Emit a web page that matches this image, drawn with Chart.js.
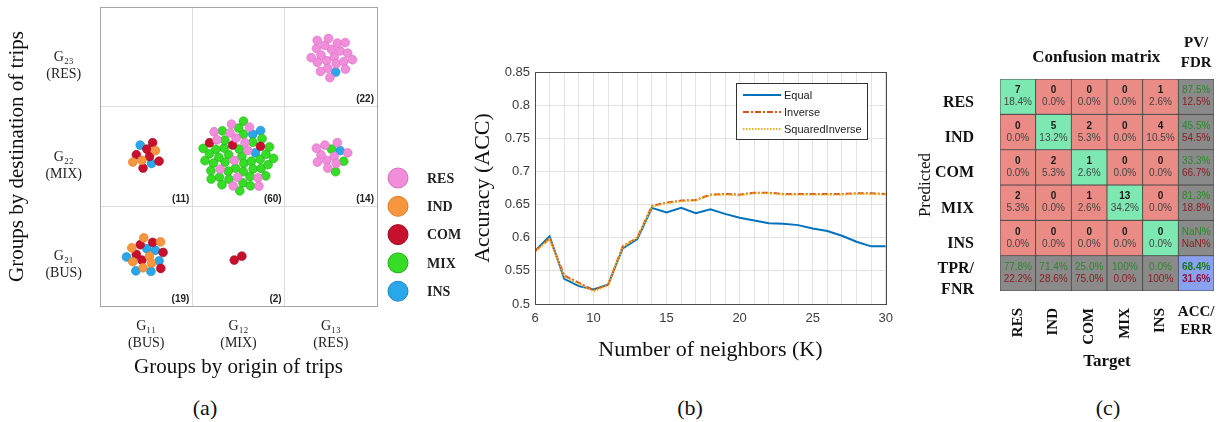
<!DOCTYPE html>
<html>
<head>
<meta charset="utf-8">
<script src="https://cdn.jsdelivr.net/npm/chart.js@4.4.1/dist/chart.umd.min.js"></script>
<style>
    body { margin: 0; background: #fff; width: 1224px; height: 422px; position: relative; overflow: hidden; }
    canvas { position: absolute; top: 0; }
    .cap { position: absolute; top: 395px; font: 22px "Liberation Serif", serif; color: #111; transform: translateX(-50%); }
</style>
</head>
<body>
<canvas id="groups-chart" width="470" height="390" style="left:0"></canvas>
<canvas id="accuracy-chart" width="430" height="390" style="left:470px"></canvas>
<canvas id="confusion-chart" width="319" height="390" style="left:905px"></canvas>
<div class="cap" style="left:205px">(a)</div>
<div class="cap" style="left:690px">(b)</div>
<div class="cap" style="left:1108px">(c)</div>

<script>
// (a) grupos por origem / destino
const originGroups = ["G₁₁", "G₁₂", "G₁₃"];
const destGroups = ["G₂₁", "G₂₂", "G₂₃"];
const groupTypes = ["(BUS)", "(MIX)", "(RES)"];
const landUses = ["RES", "IND", "COM", "MIX", "INS"];
const landColors = ["#f28ddc", "#f7963f", "#c8102e", "#36dc26", "#2aa7ea"];
const landBorders = ["#d56fc0", "#d97a25", "#9c0c22", "#22b018", "#1a88c8"];

// cada grupo: coluna de origem, linha de destino, contagem por uso do solo
const clusterOrigin = [1, 2, 1, 2, 3, 3];
const clusterDest = [1, 1, 2, 2, 2, 3];
const clusterCounts = [
    [0, 7, 6, 0, 6],
    [0, 0, 2, 0, 0],
    [0, 3, 6, 0, 2],
    [14, 0, 3, 40, 3],
    [10, 0, 0, 3, 1],
    [21, 0, 0, 0, 1]
];

// (b) acurácia x vizinhos
const neighbors = [6, 7, 8, 9, 10, 11, 12, 13, 14, 15, 16, 17, 18, 19, 20, 21, 22, 23, 24, 25, 26, 27, 28, 29, 30];
const accEqual = [0.580, 0.602, 0.538, 0.527, 0.522, 0.529, 0.584, 0.598, 0.645, 0.638, 0.645, 0.637, 0.643, 0.636, 0.630, 0.626, 0.622, 0.621, 0.619, 0.614, 0.610, 0.603, 0.594, 0.587, 0.587];
const accInverse = [0.580, 0.599, 0.543, 0.532, 0.521, 0.529, 0.587, 0.600, 0.648, 0.653, 0.656, 0.657, 0.665, 0.666, 0.665, 0.668, 0.668, 0.666, 0.666, 0.666, 0.666, 0.666, 0.667, 0.667, 0.666];
const accSquaredInverse = [0.579, 0.598, 0.541, 0.530, 0.519, 0.528, 0.586, 0.600, 0.647, 0.652, 0.655, 0.656, 0.664, 0.665, 0.664, 0.667, 0.667, 0.665, 0.665, 0.665, 0.665, 0.665, 0.666, 0.666, 0.665];

// (c) matriz de confusão (linhas = previsto, colunas = alvo)
const classes = ["RES", "IND", "COM", "MIX", "INS"];
const confusion = [
    [7, 0, 0, 0, 1],
    [0, 5, 2, 0, 4],
    [0, 2, 1, 0, 0],
    [2, 0, 1, 13, 0],
    [0, 0, 0, 0, 0]
];

Chart.defaults.font.family = "'Liberation Sans', Arial, sans-serif";
Chart.defaults.animation = false;

const serif = "'Liberation Serif', 'Times New Roman', serif";

const plotBox = {
    id: "plotBox",
    afterDraw(chart, args, opts) {
        const { ctx, chartArea: a } = chart;
        ctx.save();
        ctx.strokeStyle = opts.color || "#555";
        ctx.lineWidth = 1;
        ctx.strokeRect(Math.round(a.left) + 0.5, Math.round(a.top) + 0.5, Math.round(a.width), Math.round(a.height));
        ctx.restore();
    }
};

// ---------- (a) ----------
const spiralStep = 4.7;               // px
const cellPx = { x: 92.2, y: 99.6 };  // tamanho de uma célula em px

function packCluster(i) {
    const counts = clusterCounts[i];
    const n = counts.reduce((s, v) => s + v, 0);
    const given = counts.map(() => 0);
    const points = landUses.map(() => []);
    for (let k = 0; k < n; k++) {
        let best = 0, bestLag = -Infinity;
        counts.forEach((c, j) => {
            const lag = c * (k + 1) / n - given[j];
            if (c > given[j] && lag > bestLag) { best = j; bestLag = lag; }
        });
        given[best]++;
        const r = spiralStep * Math.sqrt(k + 0.5);
        const ang = k * 2.39996;
        points[best].push({
            x: clusterOrigin[i] + r * Math.cos(ang) / cellPx.x,
            y: clusterDest[i] - r * Math.sin(ang) / cellPx.y
        });
    }
    return points;
}
const packed = clusterCounts.map((_, i) => packCluster(i));

const dotLegend = {
    id: "dotLegend",
    afterDraw(chart) {
        const { ctx, chartArea: a } = chart;
        ctx.save();
        chart.data.datasets.forEach((ds, i) => {
            const x = a.right + 21, y = a.top + 171 + i * 28.3;
            ctx.beginPath();
            ctx.arc(x, y, 10, 0, Math.PI * 2);
            ctx.fillStyle = ds.backgroundColor;
            ctx.fill();
            ctx.lineWidth = 1;
            ctx.strokeStyle = ds.borderColor;
            ctx.stroke();
            ctx.fillStyle = "#222";
            ctx.font = "bold 14px " + serif;
            ctx.textBaseline = "middle";
            ctx.fillText(ds.label, a.right + 50, y + 1);
        });
        ctx.restore();
    }
};

const countLabels = {
    id: "countLabels",
    afterDatasetsDraw(chart) {
        const { ctx } = chart;
        const xs = chart.scales.x, ys = chart.scales.y;
        ctx.save();
        ctx.font = "bold 10px 'Liberation Sans'";
        ctx.fillStyle = "#222";
        ctx.textAlign = "right";
        ctx.textBaseline = "middle";
        clusterCounts.forEach((c, i) => {
            const total = c.reduce((s, v) => s + v, 0);
            ctx.fillText("(" + total + ")", xs.getPixelForValue(clusterOrigin[i] + 0.5) - 3, ys.getPixelForValue(clusterDest[i] - 0.5) - 7);
        });
        ctx.restore();
    }
};

const halfTicks = scale => { scale.ticks = [0.5, 1, 1.5, 2, 2.5, 3, 3.5].map(v => ({ value: v })); };
const innerGrid = ctx => (ctx.tick && (ctx.tick.value === 1.5 || ctx.tick.value === 2.5)) ? "#dcdcdc" : "rgba(0,0,0,0)";

new Chart(document.getElementById("groups-chart"), {
    type: "scatter",
    data: {
        datasets: landUses.map((name, j) => ({
            label: name,
            data: packed.flatMap(p => p[j]),
            backgroundColor: landColors[j],
            borderColor: landBorders[j],
            borderWidth: 0.6,
            pointRadius: 4.4
        }))
    },
    options: {
        responsive: false,
        layout: { padding: { top: 7, right: 93, bottom: 0, left: 0 } },
        scales: {
            x: {
                type: "linear", min: 0.5, max: 3.5,
                afterBuildTicks: halfTicks,
                afterFit: s => { s.height = 84; s.paddingLeft = 0; s.paddingRight = 0; },
                grid: { drawTicks: false, color: innerGrid },
                border: { display: false },
                ticks: {
                    padding: 12, color: "#222", autoSkip: false, maxRotation: 0,
                    font: { family: serif, size: 14 },
                    callback: v => Number.isInteger(v) ? [originGroups[v - 1], groupTypes[v - 1]] : ""
                },
                title: { display: true, text: "Groups by origin of trips", color: "#111", font: { family: serif, size: 21 }, padding: { top: 0, bottom: 10 } }
            },
            y: {
                type: "linear", min: 0.5, max: 3.5,
                afterBuildTicks: halfTicks,
                afterFit: s => { s.width = 100; s.paddingTop = 0; s.paddingBottom = 0; },
                grid: { drawTicks: false, color: innerGrid },
                border: { display: false },
                ticks: {
                    padding: 18, crossAlign: "center", labelOffset: 9, color: "#222", autoSkip: false,
                    font: { family: serif, size: 14 },
                    callback: v => Number.isInteger(v) ? [destGroups[v - 1], groupTypes[v - 1]] : ""
                },
                title: { display: true, text: "Groups by destination of trips", color: "#111", font: { family: serif, size: 21 }, padding: { top: 5, bottom: 0 } }
            }
        },
        plugins: {
            legend: { display: false },
            tooltip: { enabled: false },
            plotBox: { color: "#a5a5a5" }
        }
    },
    plugins: [plotBox, countLabels, dotLegend]
});

// ---------- (b) ----------
const boxLegend = {
    id: "boxLegend",
    afterDraw(chart) {
        const { ctx, chartArea: a } = chart;
        const w = 131, h = 56;
        const x0 = Math.round(a.right - 19 - w), y0 = Math.round(a.top + 11);
        ctx.save();
        ctx.fillStyle = "#fff";
        ctx.fillRect(x0, y0, w, h);
        ctx.strokeStyle = "#333";
        ctx.lineWidth = 1;
        ctx.strokeRect(x0 + 0.5, y0 + 0.5, w, h);
        chart.data.datasets.forEach((ds, i) => {
            const y = y0 + 12 + i * 17;
            ctx.strokeStyle = ds.borderColor;
            ctx.lineWidth = 2;
            ctx.setLineDash(ds.borderDash || []);
            ctx.beginPath();
            ctx.moveTo(x0 + 7, y);
            ctx.lineTo(x0 + 45, y);
            ctx.stroke();
            ctx.setLineDash([]);
            ctx.fillStyle = "#222";
            ctx.font = "11px 'Liberation Sans'";
            ctx.textBaseline = "middle";
            ctx.fillText(ds.label, x0 + 48, y + 1);
        });
        ctx.restore();
    }
};

const toPoints = values => neighbors.map((k, i) => ({ x: k, y: values[i] }));

new Chart(document.getElementById("accuracy-chart"), {
    type: "line",
    data: {
        datasets: [
            { label: "Equal", data: toPoints(accEqual), borderColor: "#0072BD", borderWidth: 2, pointRadius: 0, order: 3 },
            { label: "Inverse", data: toPoints(accInverse), borderColor: "#D95319", borderWidth: 2, borderDash: [6, 2, 2, 2], pointRadius: 0, order: 2 },
            { label: "SquaredInverse", data: toPoints(accSquaredInverse), borderColor: "#EDB120", borderWidth: 2, borderDash: [1.5, 1.5], pointRadius: 0, order: 1 }
        ]
    },
    options: {
        responsive: false,
        layout: { padding: { top: 72, right: 10, bottom: 0, left: 0 } },
        scales: {
            x: {
                type: "linear", min: 6, max: 30,
                afterFit: s => { s.height = 86; },
                grid: { drawTicks: false, color: "#e3e3e3" },
                border: { display: false },
                ticks: {
                    stepSize: 1, autoSkip: false, maxRotation: 0, padding: 7, color: "#3c3c3c",
                    font: { size: 13 },
                    callback: v => (v === 6 || v % 5 === 0) ? v : ""
                },
                title: { display: true, text: "Number of neighbors (K)", color: "#111", font: { family: serif, size: 22 }, padding: { top: 0, bottom: 27 } }
            },
            y: {
                min: 0.5, max: 0.85,
                afterFit: s => { s.width = 65; },
                grid: { drawTicks: false, color: "#e3e3e3" },
                border: { display: false },
                ticks: {
                    stepSize: 0.05, padding: 5, color: "#3c3c3c",
                    font: { size: 13 },
                    callback: v => String(parseFloat(v.toFixed(2)))
                },
                title: { display: true, text: "Accuracy (ACC)", color: "#111", font: { family: serif, size: 22 }, padding: { top: 0, bottom: 0 } }
            }
        },
        plugins: {
            legend: { display: false },
            tooltip: { enabled: false },
            plotBox: { color: "#4a4a4a" }
        }
    },
    plugins: [plotBox, boxLegend]
});

// ---------- (c) ----------
const total = confusion.flat().reduce((s, v) => s + v, 0);
const rowSums = confusion.map(r => r.reduce((s, v) => s + v, 0));
const colSums = classes.map((_, c) => confusion.reduce((s, r) => s + r[c], 0));
const correct = classes.reduce((s, _, i) => s + confusion[i][i], 0);
const pct = v => isNaN(v) ? "NaN%" : (v === 100 ? "100%" : v.toFixed(1) + "%");

const colLabels = [...classes, "ACC/ERR"];
const rowLabels = [...classes, ["TPR/", "FNR"]];

function cellColor(r, c) {
    if (r === 5 && c === 5) return "#8aa1f2";
    if (r === 5 || c === 5) return "#8a8a8a";
    return r === c ? "#7ee8b2" : "#ea8b86";
}

function cellText(r, c) {
    if (r < 5 && c < 5) {
        return { top: String(confusion[r][c]), bottom: pct(confusion[r][c] / total * 100), summary: false };
    }
    let good;
    if (r === 5 && c === 5) good = correct / total * 100;
    else if (c === 5) good = confusion[r][r] / rowSums[r] * 100;
    else good = confusion[c][c] / colSums[c] * 100;
    return { top: pct(good), bottom: pct(100 - good), summary: true };
}

const cellLabels = {
    id: "cellLabels",
    afterDatasetsDraw(chart) {
        const { ctx } = chart;
        const xs = chart.scales.x, ys = chart.scales.y;
        ctx.save();
        ctx.textAlign = "center";
        ctx.textBaseline = "middle";
        rowLabels.forEach((_, r) => {
            colLabels.forEach((_, c) => {
                const t = cellText(r, c);
                const x = xs.getPixelForValue(c), y = ys.getPixelForValue(r + 0.5);
                const corner = r === 5 && c === 5;
                if (t.summary) {
                    ctx.font = (corner ? "bold " : "") + "10px 'Liberation Sans'";
                    ctx.fillStyle = corner ? "#137a13" : "#2a8a2a";
                    ctx.fillText(t.top, x, y - 6);
                    ctx.fillStyle = corner ? "#8b1438" : "#8a1c1c";
                    ctx.fillText(t.bottom, x, y + 6);
                } else {
                    ctx.font = "bold 10px 'Liberation Sans'";
                    ctx.fillStyle = "#1a1a1a";
                    ctx.fillText(t.top, x, y - 6);
                    ctx.font = "10px 'Liberation Sans'";
                    ctx.fillStyle = "#444";
                    ctx.fillText(t.bottom, x, y + 6);
                }
            });
        });
        ctx.restore();
    },
    afterDraw(chart) {
        const { ctx, chartArea: a } = chart;
        const xs = chart.scales.x;
        const lastX = xs.getPixelForValue(5);
        ctx.save();
        ctx.fillStyle = "#111";
        ctx.textAlign = "center";
        ctx.textBaseline = "middle";
        ctx.font = "bold 17px " + serif;
        ctx.fillText("Confusion matrix", a.left + a.width * 5 / 12 + 7, 58);
        ctx.font = "bold 15px " + serif;
        ctx.fillText("PV/", lastX, 43);
        ctx.fillText("FDR", lastX, 63);
        ctx.fillText("ACC/", lastX, a.bottom + 21);
        ctx.fillText("ERR", lastX, a.bottom + 39);
        ctx.restore();
    }
};

new Chart(document.getElementById("confusion-chart"), {
    type: "bar",
    data: {
        labels: colLabels,
        datasets: rowLabels.map((name, r) => ({
            label: Array.isArray(name) ? name.join(" ") : name,
            data: colLabels.map(() => [r, r + 1]),
            backgroundColor: colLabels.map((_, c) => cellColor(r, c)),
            borderColor: "#4a4a4a",
            borderWidth: 0.8,
            borderSkipped: false,
            barPercentage: 1,
            categoryPercentage: 1,
            grouped: false
        }))
    },
    options: {
        responsive: false,
        layout: { padding: { top: 79, right: 10, bottom: 0, left: 0 } },
        scales: {
            x: {
                afterFit: s => { s.height = 99; s.paddingLeft = 0; s.paddingRight = 0; },
                grid: { display: false },
                border: { display: false },
                ticks: {
                    minRotation: 90, maxRotation: 90, padding: 9, color: "#111", autoSkip: false,
                    font: { family: serif, size: 15, weight: "bold" },
                    callback: (v, i) => i < classes.length ? colLabels[i] : ""
                },
                title: { display: true, text: "Target", color: "#111", font: { family: serif, size: 17, weight: "bold" }, padding: { top: 0, bottom: 18 } }
            },
            y: {
                type: "linear", min: 0, max: 6, reverse: true,
                afterBuildTicks: s => { s.ticks = [0.5, 1.5, 2.5, 3.5, 4.5, 5.5].map(v => ({ value: v })); },
                afterFit: s => { s.width = 95; s.paddingTop = 0; s.paddingBottom = 0; },
                grid: { display: false },
                border: { display: false },
                ticks: {
                    padding: 18, labelOffset: 6, color: "#111", autoSkip: false,
                    font: { family: serif, size: 16, weight: "bold", lineHeight: 1.3 },
                    callback: (v, i) => rowLabels[i]
                },
                title: { display: true, text: "Predicted", color: "#111", font: { family: serif, size: 17 }, padding: { top: 10, bottom: 0 } }
            }
        },
        plugins: {
            legend: { display: false },
            tooltip: { enabled: false }
        }
    },
    plugins: [cellLabels]
});
</script>
</body>
</html>
